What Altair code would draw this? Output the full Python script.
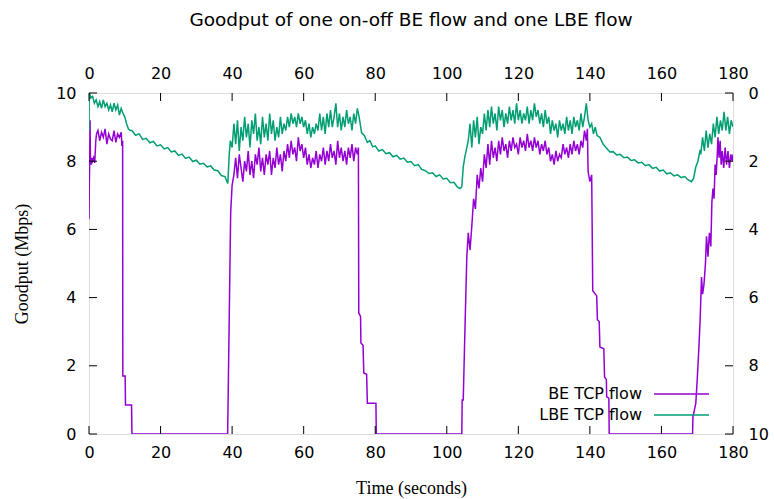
import altair as alt
import numpy as np
import pandas as pd

# ---------------- data ----------------
FLOWS = ["BE TCP flow", "LBE TCP flow"]
COLORS = ["#9400D3", "#009E73"]
X_TICKS = [0, 20, 40, 60, 80, 100, 120, 140, 160, 180]
Y_TICKS = [0, 2, 4, 6, 8, 10]

# BE TCP flow (on-off), Mbps
BE_T1 = [0.0, 0.1, 0.2, 0.3, 0.4, 0.6, 0.8, 1.0, 1.3, 1.6, 1.9, 2.1]
BE_V1 = [6.3, 7.4, 8.0, 9.2, 8.0, 7.9, 8.1, 8.0, 8.1, 7.95, 8.6, 8.8]
BE_V2 = [8.9, 8.6, 8.85, 8.7, 8.95, 8.5, 8.8, 8.65, 8.6, 8.9, 8.55, 8.8, 8.7, 8.85]  # 2.5 .. 9.0
BE_T3 = [9.2, 9.4, 9.45, 10.1, 10.2, 11.9, 12.0, 38.75, 39.6, 39.8, 40.0]
BE_V3 = [8.45, 8.6, 1.7, 1.7, 0.85, 0.85, 0.0, 0.0, 6.5, 6.9, 7.3]
BE_V4 = [7.6, 8.1, 7.5, 8.2, 7.8, 7.4, 8.0, 7.7, 8.3, 7.6,
         8.0, 7.5, 8.2, 7.9, 8.4, 7.7, 8.1, 7.6, 8.2, 7.9,
         8.3, 7.6, 8.1, 7.8, 8.4, 7.9, 8.2, 7.7, 8.3, 8.0,
         8.5, 8.1, 8.6, 8.2, 8.4, 8.0, 8.7, 8.3, 8.5, 8.1,
         8.4, 7.9, 8.2, 7.8, 8.1, 7.9, 8.3, 7.8, 8.2, 8.0,
         8.4, 7.9, 8.3, 8.0, 8.5, 8.1, 8.3, 7.9, 8.6, 8.1,
         8.4, 8.0, 8.3, 7.9, 8.4, 8.1, 8.5, 8.0, 8.4, 8.2]  # 40.5 .. 75.0
BE_T5 = [75.3, 75.4, 75.9, 76.0, 76.6, 76.8, 77.6, 77.8, 80.2, 80.3, 104.2, 104.3,
         104.6, 105.1, 105.6, 106.0, 106.5, 107.0, 107.5, 108.0, 108.5, 109.0, 109.5, 110.0]
BE_V5 = [8.4, 3.55, 3.45, 2.67, 2.6, 1.79, 1.75, 0.9, 0.9, 0.0, 0.0, 1.0,
         1.0, 3.15, 5.2, 5.9, 5.4, 6.1, 6.9, 6.6, 7.6, 7.2, 7.8, 7.4]
BE_V6 = [8.2, 7.8, 8.5, 7.9, 8.6, 8.1, 8.4, 8.0, 8.6, 8.2,
         8.7, 8.3, 8.5, 8.1, 8.6, 8.3, 8.7, 8.4, 8.5, 8.2,
         8.7, 8.4, 8.6, 8.3, 8.8, 8.4, 8.6, 8.3, 8.7, 8.4,
         8.6, 8.2, 8.5, 8.3, 8.6, 8.2, 8.4, 8.0, 8.2, 7.9,
         8.3, 8.0, 8.2, 8.1, 8.5, 8.2, 8.4, 8.1, 8.5, 8.2,
         8.6, 8.3, 8.5, 8.2, 8.6, 8.4, 8.9, 8.6]  # 110.5 .. 139.0
BE_T7 = [139.3, 139.5, 140.0, 140.5, 140.8, 141.9, 142.1, 142.6, 142.8, 143.9,
         144.1, 144.6, 144.7, 145.3, 145.4, 168.7,
         168.8, 169.2, 169.6, 170.0, 170.4, 170.8, 171.2, 171.5, 171.9, 172.3,
         172.6, 173.0, 173.4, 173.8, 174.1, 174.4, 174.7, 175.0, 175.3, 175.6,
         175.8, 176.1, 176.4, 176.7, 177.0, 177.4, 177.8, 178.2, 178.6, 179.0,
         179.4, 179.8, 180.0]
BE_V7 = [8.95, 7.7, 7.4, 7.6, 4.2, 4.05, 3.35, 3.3, 2.55, 2.5,
         1.67, 1.6, 1.09, 1.05, 0.0, 0.0,
         0.5, 0.7, 0.9, 1.6, 2.4, 3.3, 4.6, 4.1, 4.4, 5.0,
         5.8, 5.2, 5.9, 5.5, 6.8, 7.2, 6.9, 7.9, 7.6, 8.2,
         8.7, 8.1, 8.6, 7.9, 8.3, 7.8, 8.4, 7.9, 8.3, 7.8,
         8.2, 8.0, 8.2]

# LBE TCP flow, Mbps
LBE_T1 = [0.0, 0.05, 0.3]
LBE_V1 = [8.9, 10.0, 9.95]
LBE_V2 = [9.85, 9.9, 9.7, 9.8, 9.6, 9.75, 9.55, 9.8, 9.6, 9.7, 9.5, 9.65,
          9.45, 9.7, 9.5, 9.65, 9.35, 9.55, 9.4, 9.3, 9.1, 8.95, 8.9]  # 0.5 .. 11.5
LBE_V3 = [8.9, 8.76, 8.8, 8.64, 8.67, 8.54, 8.58, 8.45, 8.48, 8.36, 8.4, 8.27,
          8.3, 8.17, 8.21, 8.08, 8.12, 7.99, 8.03, 7.91, 7.94, 7.83, 7.86, 7.74,
          7.72, 7.58, 7.55]  # 12 .. 38 (1 s)
LBE_T4 = [38.5, 38.8, 39.2, 39.5, 40.0]
LBE_V4 = [7.42, 7.35, 8.2, 8.6, 8.4]
LBE_V5 = [9.1, 8.5, 9.2, 8.3, 9.0, 8.6, 9.3, 8.7, 9.1, 8.4,
          9.2, 8.8, 9.4, 8.6, 9.0, 8.5, 9.3, 8.7, 9.1, 8.6,
          9.4, 8.8, 9.2, 8.6, 9.0, 8.7, 9.3, 8.8, 9.1, 8.9,
          9.3, 9.0, 9.4, 9.1, 9.3, 9.0, 9.4, 9.1, 9.3, 9.0,
          9.2, 8.8, 9.1, 8.7, 9.0, 8.8, 9.1, 8.9, 9.4, 8.9,
          9.3, 8.8, 9.4, 9.0, 9.5, 9.0, 9.3, 9.7, 9.0, 9.4,
          8.9, 9.3, 9.0, 9.5, 9.1, 9.3, 8.9, 9.4, 9.1, 9.55]  # 40.5 .. 75.0
LBE_T6 = [75.5, 76.2, 77.0, 77.8, 78.5, 79.3, 80.0, 81.0, 82.0, 83.0, 84.0, 85.0,
          86.0, 87.0, 88.0, 89.0, 90.0, 91.0, 92.0, 93.0, 94.0, 95.0, 96.0, 97.0,
          98.0, 99.0, 100.0, 101.0, 102.0, 103.0, 103.7, 104.2, 104.6, 105.0, 105.6]
LBE_V6 = [9.3, 8.83, 8.75, 8.55, 8.6, 8.42, 8.45, 8.3, 8.34, 8.22, 8.25, 8.13,
          8.17, 8.06, 8.09, 7.97, 7.99, 7.87, 7.9, 7.76, 7.72, 7.64, 7.66, 7.55,
          7.6, 7.48, 7.5, 7.37, 7.38, 7.24, 7.2, 7.25, 7.83, 8.1, 8.4]
LBE_V7 = [8.6, 9.1, 8.4, 9.2, 8.7, 9.3, 8.5, 9.0, 8.8, 9.4,
          8.9, 9.5, 9.0, 9.6, 9.1, 9.4, 8.9, 9.6, 9.2, 9.5,
          9.0, 9.4, 9.1, 9.6, 9.2, 9.5, 9.1, 9.7, 9.2, 9.5,
          9.1, 9.4, 9.2, 9.6, 9.1, 9.5, 9.2, 9.7, 9.3, 9.5,
          9.1, 9.4, 9.0, 9.5, 9.1, 9.3, 8.8, 9.2, 8.9, 9.1,
          8.7, 9.2, 8.9, 9.1, 8.8, 9.3, 8.9, 9.2, 8.8, 9.3,
          9.0, 9.2, 8.9, 9.4, 9.0, 9.3, 9.7]  # 106.0 .. 139.0
LBE_T8 = [139.5, 140.0, 140.5, 141.0, 141.5, 142.0, 142.8, 143.7, 144.5, 145.6,
          146.5, 147.5, 148.5, 149.5, 150.5, 151.5, 152.5, 153.5, 154.5, 155.5,
          156.5, 157.5, 158.5, 159.5, 160.5, 161.5, 162.5, 163.5, 164.5, 165.5,
          166.5, 167.5, 168.4, 169.0, 169.6, 170.2, 170.8]
LBE_V8 = [9.2, 9.0, 9.1, 8.8, 9.0, 8.75, 8.7, 8.5, 8.4, 8.27,
          8.28, 8.18, 8.2, 8.1, 8.12, 8.02, 8.04, 7.95, 7.97, 7.87,
          7.9, 7.79, 7.82, 7.71, 7.74, 7.63, 7.66, 7.57, 7.6, 7.52,
          7.55, 7.45, 7.4, 7.5, 7.83, 8.0, 8.33]
LBE_V9 = [8.2, 8.7, 8.3, 8.9, 8.4, 8.8, 8.5, 9.1, 8.7, 9.3,
          8.8, 9.2, 8.9, 9.45, 8.9, 9.3, 8.8, 9.2, 9.0]  # 171.0 .. 180.0


def sampled(start, values, step=0.5):
    # sampling instants of a regularly sampled stretch of the trace
    return [round(start + i * step, 2) for i in range(len(values))]


be_t = BE_T1 + sampled(2.5, BE_V2) + BE_T3 + sampled(40.5, BE_V4) + BE_T5 + sampled(110.5, BE_V6) + BE_T7
be_v = BE_V1 + BE_V2 + BE_V3 + BE_V4 + BE_V5 + BE_V6 + BE_V7
lbe_t = (LBE_T1 + sampled(0.5, LBE_V2) + sampled(12.0, LBE_V3, 1.0) + LBE_T4 + sampled(40.5, LBE_V5)
         + LBE_T6 + sampled(106.0, LBE_V7) + LBE_T8 + sampled(171.0, LBE_V9))
lbe_v = LBE_V1 + LBE_V2 + LBE_V3 + LBE_V4 + LBE_V5 + LBE_V6 + LBE_V7 + LBE_V8 + LBE_V9

df = pd.concat([
    pd.DataFrame({"t": be_t, "v": be_v, "flow": FLOWS[0], "k": range(len(be_t))}),
    pd.DataFrame({"t": lbe_t, "v": lbe_v, "flow": FLOWS[1], "k": range(len(lbe_t))}),
], ignore_index=True)

# ---------------- layout ----------------
W, H = 644, 341
SANS = "DejaVu Sans"
SERIF = "Liberation Serif"
TICK = 8

xs = alt.Scale(domain=[0, 180], nice=False, zero=False)
ys = alt.Scale(domain=[0, 10], nice=False)
cs = alt.Scale(domain=FLOWS, range=COLORS)

X_AXIS = alt.Axis(
    title="Time (seconds)", values=X_TICKS, ticks=False, domain=False, grid=False,
    labelFont=SANS, labelFontSize=16, labelColor="black", labelPadding=10,
    titleFont=SERIF, titleFontSize=18, titleFontWeight="normal", titleColor="black",
    titlePadding=19, labelFlush=False)
Y_AXIS = alt.Axis(
    title="Goodput (Mbps)", values=Y_TICKS, ticks=False, domain=False, grid=False,
    labelFont=SANS, labelFontSize=16, labelColor="black", labelPadding=13,
    titleFont=SERIF, titleFontSize=18, titleFontWeight="normal", titleColor="black",
    titlePadding=24, labelFlush=False)

lines = alt.Chart(df).mark_line(strokeWidth=1.5, clip=True).encode(
    x=alt.X("t:Q", scale=xs, axis=X_AXIS),
    y=alt.Y("v:Q", scale=ys, axis=Y_AXIS),
    color=alt.Color("flow:N", scale=cs, legend=None),
    order="k:Q",
)

xt = pd.DataFrame({"t": X_TICKS})
yt = pd.DataFrame({"v": Y_TICKS})
tick_style = dict(color="black", strokeWidth=1)
bottom_ticks = alt.Chart(xt).mark_rule(**tick_style).encode(
    x=alt.X("t:Q", scale=xs, axis=X_AXIS), y=alt.value(H), y2=alt.value(H - TICK))
top_ticks = alt.Chart(xt).mark_rule(**tick_style).encode(
    x=alt.X("t:Q", scale=xs, axis=X_AXIS), y=alt.value(0), y2=alt.value(TICK))
left_ticks = alt.Chart(yt).mark_rule(**tick_style).encode(
    y=alt.Y("v:Q", scale=ys, axis=Y_AXIS), x=alt.value(0), x2=alt.value(TICK))
right_ticks = alt.Chart(yt).mark_rule(**tick_style).encode(
    y=alt.Y("v:Q", scale=ys, axis=Y_AXIS), x=alt.value(W - TICK), x2=alt.value(W))

leg = pd.DataFrame({"flow": FLOWS})
LEG_TEXT_X, LEG_LINE_X1, LEG_LINE_X2 = 553, 565, 620
LEG_Y = [301, 322]
legend_layers = []
for name, yy in zip(FLOWS, LEG_Y):
    sub = alt.Chart(leg).transform_filter(alt.datum.flow == name)
    legend_layers.append(sub.mark_text(align="right", baseline="middle", font=SANS, fontSize=16,
                                       color="black").encode(
        text="flow:N", x=alt.value(LEG_TEXT_X), y=alt.value(yy)))
    legend_layers.append(sub.mark_rule(strokeWidth=1.5).encode(
        x=alt.value(LEG_LINE_X1), x2=alt.value(LEG_LINE_X2), y=alt.value(yy),
        color=alt.Color("flow:N", scale=cs, legend=None)))

main = alt.layer(lines, bottom_ticks, top_ticks, left_ticks, right_ticks, *legend_layers)

axes_df = pd.DataFrame({"t": [0, 180], "v": [0, 10]})
axes2 = alt.Chart(axes_df).mark_point(opacity=0).encode(
    x=alt.X("t:Q", scale=alt.Scale(domain=[0, 180], nice=False, zero=False), axis=alt.Axis(
        orient="top", title=None, values=X_TICKS, ticks=False, domain=False, grid=False,
        labelFont=SANS, labelFontSize=16, labelColor="black", labelPadding=12, labelFlush=False)),
    y=alt.Y("v:Q", scale=alt.Scale(domain=[0, 10], nice=False, reverse=True), axis=alt.Axis(
        orient="right", title=None, values=Y_TICKS, ticks=False, domain=False, grid=False,
        labelFont=SANS, labelFontSize=16, labelColor="black", labelPadding=15, labelFlush=False)),
)

chart = alt.layer(main, axes2).resolve_scale(x="independent", y="independent").properties(
    width=W, height=H,
    title=alt.TitleParams("Goodput of one on-off BE flow and one LBE flow", font=SANS,
                          fontSize=18.5, fontWeight="normal", color="black", anchor="middle",
                          offset=36),
    autosize=alt.AutoSizeParams(type="none"),
    padding={"left": 89, "top": 93, "right": 41, "bottom": 65},
).configure_view(stroke="black", strokeWidth=1.5).configure(background="white")

chart.save("out.html", embed_options={"renderer": "svg", "actions": False})
